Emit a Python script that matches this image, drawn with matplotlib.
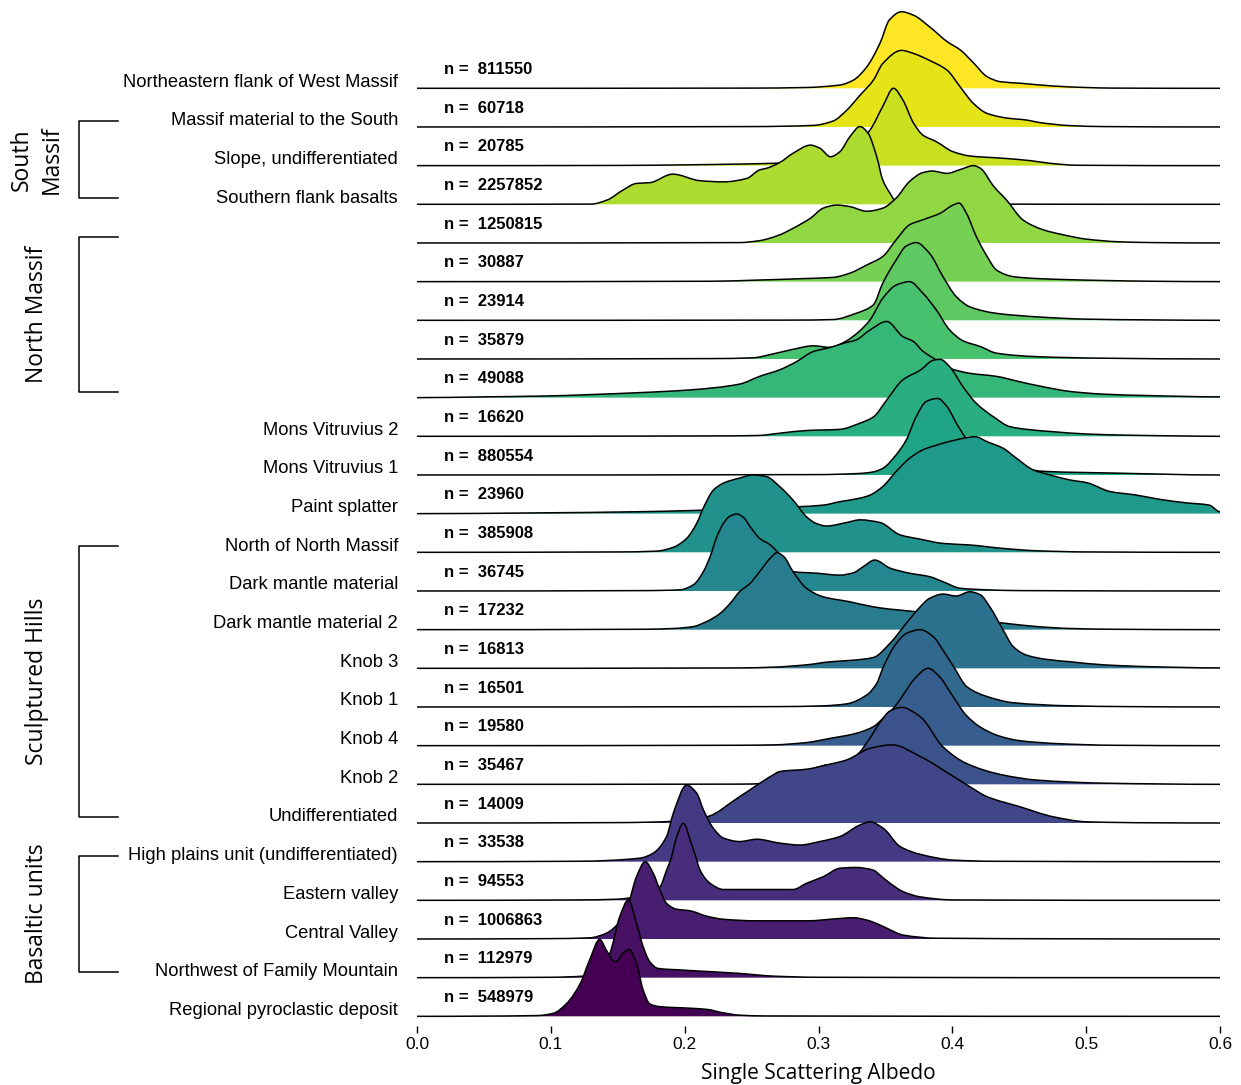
import numpy as np
import matplotlib
matplotlib.use("Agg")
import matplotlib.pyplot as plt
from matplotlib.path import Path
from matplotlib.patches import PathPatch
from matplotlib.transforms import blended_transform_factory

# --- DATA ---------------------------------------------------------------------
labels = [
    "Northeastern flank of West Massif", "Massif material to the South",
    "Slope, undifferentiated", "Southern flank basalts", "", "", "", "", "",
    "Mons Vitruvius 2", "Mons Vitruvius 1", "Paint splatter",
    "North of North Massif", "Dark mantle material", "Dark mantle material 2",
    "Knob 3", "Knob 1", "Knob 4", "Knob 2", "Undifferentiated",
    "High plains unit (undifferentiated)", "Eastern valley", "Central Valley",
    "Northwest of Family Mountain", "Regional pyroclastic deposit",
]
counts = [811550, 60718, 20785, 2257852, 1250815, 30887, 23914, 35879, 49088,
          16620, 880554, 23960, 385908, 36745, 17232, 16813, 16501, 19580,
          35467, 14009, 33538, 94553, 1006863, 112979, 548979]

# groups: (name, first row, last row)
groups = [("South\nMassif", 1, 3), ("North Massif", 4, 8),
          ("Sculptured Hills", 12, 19), ("Basaltic units", 20, 23)]

# density curves (albedo, height in row spacings)
albedo = [
    [0, 0.25, 0.29, 0.316, 0.326, 0.336, 0.346, 0.353, 0.362, 0.371, 0.383, 0.396, 0.406, 0.416, 0.426, 0.436, 0.451, 0.475, 0.50, 0.52, 0.6],
    [0, 0.25, 0.296, 0.311, 0.321, 0.331, 0.341, 0.348, 0.362, 0.371, 0.383, 0.396, 0.406, 0.416, 0.426, 0.443, 0.453, 0.468, 0.488, 0.513, 0.6],
    [0, 0.15, 0.2, 0.24, 0.266, 0.29, 0.31, 0.325, 0.3385, 0.348, 0.356, 0.363, 0.371, 0.378, 0.388, 0.4005, 0.413, 0.438, 0.458, 0.473, 0.493, 0.6],
    [0, 0.13, 0.142, 0.154, 0.164, 0.174, 0.191, 0.2115, 0.229, 0.2465, 0.256, 0.261, 0.271, 0.281, 0.294, 0.301, 0.309, 0.316, 0.3235, 0.331, 0.337, 0.3435, 0.348, 0.3535, 0.358, 0.365, 0.38, 0.42, 0.6],
    [0, 0.241, 0.256, 0.271, 0.281, 0.294, 0.3035, 0.3135, 0.3235, 0.336, 0.348, 0.358, 0.368, 0.378, 0.385, 0.396, 0.406, 0.416, 0.421, 0.431, 0.4405, 0.453, 0.468, 0.483, 0.50, 0.525, 0.55, 0.6],
    [0, 0.22, 0.254, 0.29, 0.311, 0.3235, 0.336, 0.348, 0.358, 0.368, 0.378, 0.391, 0.4005, 0.405, 0.4105, 0.418, 0.426, 0.433, 0.4455, 0.463, 0.513, 0.55, 0.6],
    [0, 0.28, 0.311, 0.328, 0.341, 0.348, 0.358, 0.3655, 0.373, 0.383, 0.393, 0.403, 0.413, 0.433, 0.463, 0.50, 0.55, 0.6],
    [0, 0.22, 0.251, 0.266, 0.281, 0.296, 0.309, 0.32, 0.33, 0.3385, 0.348, 0.358, 0.368, 0.378, 0.388, 0.398, 0.408, 0.421, 0.433, 0.463, 0.513, 0.6],
    [0, 0.05, 0.092, 0.1665, 0.204, 0.241, 0.256, 0.271, 0.2835, 0.296, 0.309, 0.319, 0.328, 0.3385, 0.351, 0.363, 0.371, 0.378, 0.386, 0.398, 0.413, 0.433, 0.4505, 0.468, 0.488, 0.513, 0.55, 0.6],
    [0, 0.22, 0.254, 0.271, 0.291, 0.316, 0.331, 0.341, 0.351, 0.363, 0.376, 0.386, 0.391, 0.398, 0.408, 0.418, 0.4305, 0.443, 0.4555, 0.475, 0.50, 0.53, 0.57, 0.6],
    [0, 0.3, 0.331, 0.341, 0.348, 0.358, 0.3655, 0.373, 0.3805, 0.389, 0.396, 0.403, 0.4095, 0.42, 0.435, 0.45, 0.4705, 0.52, 0.6],
    [0, 0.092, 0.1665, 0.204, 0.24, 0.286, 0.3035, 0.316, 0.331, 0.3385, 0.348, 0.358, 0.368, 0.378, 0.391, 0.403, 0.417, 0.426, 0.438, 0.448, 0.4605, 0.473, 0.488, 0.5005, 0.518, 0.5375, 0.555, 0.5745, 0.592, 0.6],
    [0, 0.15, 0.179, 0.1915, 0.2015, 0.209, 0.214, 0.2215, 0.229, 0.241, 0.251, 0.261, 0.271, 0.281, 0.291, 0.298, 0.306, 0.321, 0.331, 0.346, 0.361, 0.376, 0.393, 0.413, 0.438, 0.463, 0.5, 0.6],
    [0, 0.17, 0.1965, 0.2065, 0.214, 0.219, 0.224, 0.229, 0.234, 0.239, 0.244, 0.249, 0.256, 0.264, 0.269, 0.275, 0.281, 0.2985, 0.316, 0.326, 0.3335, 0.342, 0.3535, 0.368, 0.383, 0.393, 0.406, 0.426, 0.45, 0.6],
    [0, 0.17, 0.1915, 0.2065, 0.2165, 0.2265, 0.234, 0.241, 0.249, 0.256, 0.264, 0.269, 0.274, 0.281, 0.291, 0.3035, 0.3235, 0.341, 0.3535, 0.371, 0.39, 0.415, 0.438, 0.463, 0.488, 0.52, 0.6],
    [0, 0.24, 0.266, 0.291, 0.309, 0.326, 0.341, 0.3535, 0.3655, 0.376, 0.383, 0.393, 0.403, 0.413, 0.421, 0.428, 0.438, 0.4455, 0.4555, 0.4705, 0.488, 0.513, 0.55, 0.6],
    [0, 0.27, 0.3035, 0.321, 0.336, 0.3435, 0.3485, 0.358, 0.3655, 0.376, 0.386, 0.393, 0.401, 0.411, 0.426, 0.4455, 0.488, 0.53, 0.6],
    [0, 0.24, 0.266, 0.291, 0.309, 0.326, 0.341, 0.348, 0.357, 0.365, 0.371, 0.382, 0.39, 0.40, 0.41, 0.42, 0.435, 0.45, 0.48, 0.52, 0.6],
    [0, 0.24, 0.26, 0.28, 0.29, 0.306, 0.321, 0.33, 0.3385, 0.346, 0.3535, 0.362, 0.376, 0.393, 0.4105, 0.438, 0.463, 0.513, 0.6],
    [0, 0.15, 0.19, 0.2, 0.2165, 0.241, 0.266, 0.271, 0.291, 0.306, 0.321, 0.3385, 0.355, 0.376, 0.401, 0.413, 0.426, 0.4505, 0.4755, 0.5005, 0.55, 0.6],
    [0, 0.12, 0.1665, 0.1765, 0.1865, 0.1915, 0.2015, 0.209, 0.214, 0.2215, 0.229, 0.241, 0.254, 0.271, 0.286, 0.301, 0.316, 0.331, 0.3385, 0.3485, 0.361, 0.376, 0.401, 0.43, 0.6],
    [0, 0.12, 0.15, 0.165, 0.1815, 0.1865, 0.19, 0.194, 0.199, 0.205, 0.209, 0.2115, 0.219, 0.229, 0.254, 0.281, 0.291, 0.3035, 0.316, 0.328, 0.341, 0.346, 0.3535, 0.3635, 0.376, 0.401, 0.6],
    [0, 0.1, 0.129, 0.1415, 0.1515, 0.158, 0.164, 0.1705, 0.1765, 0.1815, 0.1865, 0.194, 0.204, 0.2165, 0.229, 0.254, 0.291, 0.316, 0.326, 0.336, 0.346, 0.351, 0.3635, 0.388, 0.6],
    [0, 0.1, 0.1245, 0.137, 0.141, 0.145, 0.1515, 0.158, 0.164, 0.169, 0.174, 0.18, 0.1965, 0.2165, 0.241, 0.266, 0.3, 0.6],
    [0, 0.09, 0.102, 0.112, 0.122, 0.129, 0.1365, 0.1415, 0.148, 0.154, 0.1585, 0.164, 0.169, 0.174, 0.1815, 0.204, 0.2165, 0.229, 0.241, 0.26, 0.6],
]
density = [
    [0, 0.005, 0.02, 0.085, 0.21, 0.55, 1.17, 1.77, 1.98, 1.89, 1.59, 1.21, 0.99, 0.65, 0.30, 0.17, 0.13, 0.06, 0.02, 0.005, 0],
    [0, 0.01, 0.04, 0.155, 0.43, 0.82, 1.21, 1.64, 1.98, 1.90, 1.72, 1.47, 1.03, 0.60, 0.35, 0.22, 0.19, 0.10, 0.035, 0.01, 0],
    [0, 0.005, 0.02, 0.04, 0.06, 0.1, 0.2, 0.45, 0.92, 1.53, 2.0, 1.70, 1.10, 0.79, 0.62, 0.36, 0.25, 0.19, 0.13, 0.06, 0.01, 0],
    [0, 0.005, 0.11, 0.37, 0.54, 0.56, 0.78, 0.61, 0.58, 0.67, 0.89, 0.93, 1.08, 1.32, 1.53, 1.45, 1.23, 1.36, 1.75, 2.01, 1.84, 1.23, 0.63, 0.28, 0.07, 0.04, 0.02, 0.005, 0],
    [0, 0.01, 0.06, 0.21, 0.38, 0.64, 0.90, 0.98, 0.94, 0.82, 0.90, 1.16, 1.59, 1.82, 1.86, 1.80, 1.90, 2.0, 1.93, 1.46, 1.11, 0.59, 0.34, 0.21, 0.10, 0.03, 0.01, 0],
    [0, 0.01, 0.04, 0.08, 0.11, 0.22, 0.43, 0.65, 1.08, 1.47, 1.60, 1.77, 1.98, 2.03, 1.77, 1.16, 0.65, 0.30, 0.13, 0.08, 0.03, 0.01, 0],
    [0, 0.005, 0.02, 0.18, 0.40, 0.96, 1.56, 1.92, 2.01, 1.73, 1.13, 0.61, 0.35, 0.18, 0.09, 0.03, 0.01, 0],
    [0, 0.01, 0.03, 0.13, 0.25, 0.34, 0.30, 0.45, 0.7, 1.01, 1.57, 1.91, 2.0, 1.70, 1.27, 0.75, 0.47, 0.32, 0.15, 0.06, 0.02, 0],
    [0, 0.02, 0.04, 0.13, 0.20, 0.35, 0.55, 0.72, 0.93, 1.19, 1.30, 1.41, 1.49, 1.75, 1.97, 1.58, 1.45, 1.2, 1.02, 0.76, 0.63, 0.55, 0.41, 0.28, 0.16, 0.09, 0.05, 0.02],
    [0, 0.01, 0.02, 0.08, 0.15, 0.18, 0.34, 0.50, 0.94, 1.46, 1.71, 1.97, 1.99, 1.80, 1.28, 0.85, 0.51, 0.25, 0.18, 0.12, 0.06, 0.03, 0.01, 0],
    [0, 0.01, 0.04, 0.08, 0.17, 0.52, 0.90, 1.51, 1.90, 1.98, 1.77, 1.34, 0.99, 0.65, 0.35, 0.18, 0.09, 0.05, 0],
    [0, 0.02, 0.05, 0.08, 0.12, 0.18, 0.22, 0.31, 0.40, 0.48, 0.70, 1.09, 1.43, 1.65, 1.80, 1.91, 1.99, 1.86, 1.69, 1.43, 1.13, 1.0, 0.87, 0.80, 0.57, 0.48, 0.37, 0.28, 0.22, 0.05],
    [0, 0.01, 0.03, 0.13, 0.36, 0.75, 1.15, 1.61, 1.79, 1.92, 2.0, 1.96, 1.70, 1.35, 0.92, 0.75, 0.68, 0.77, 0.84, 0.77, 0.45, 0.34, 0.23, 0.19, 0.10, 0.04, 0.01, 0],
    [0, 0.01, 0.03, 0.16, 0.50, 0.89, 1.40, 1.75, 1.94, 1.99, 1.90, 1.66, 1.36, 1.19, 1.02, 0.75, 0.50, 0.46, 0.41, 0.47, 0.63, 0.80, 0.59, 0.46, 0.37, 0.24, 0.07, 0.03, 0.01, 0],
    [0, 0.01, 0.03, 0.08, 0.21, 0.42, 0.68, 0.98, 1.20, 1.50, 1.85, 1.99, 1.89, 1.50, 1.07, 0.85, 0.72, 0.59, 0.53, 0.47, 0.35, 0.25, 0.17, 0.08, 0.03, 0.01, 0],
    [0, 0.01, 0.03, 0.09, 0.17, 0.21, 0.28, 0.65, 1.16, 1.59, 1.81, 1.92, 1.87, 1.98, 1.90, 1.59, 0.99, 0.56, 0.34, 0.23, 0.17, 0.09, 0.04, 0.01],
    [0, 0.01, 0.03, 0.08, 0.31, 0.61, 1.04, 1.64, 1.90, 2.0, 1.81, 1.47, 1.04, 0.52, 0.27, 0.11, 0.03, 0.01, 0],
    [0, 0.01, 0.02, 0.08, 0.19, 0.30, 0.49, 0.7, 1.01, 1.4, 1.70, 2.0, 1.8, 1.3, 0.8, 0.5, 0.25, 0.13, 0.05, 0.01, 0],
    [0, 0.005, 0.02, 0.08, 0.3, 0.50, 0.55, 0.8, 1.2, 1.6, 1.9, 1.99, 1.75, 0.97, 0.54, 0.24, 0.11, 0.03, 0],
    [0, 0.01, 0.04, 0.08, 0.16, 0.68, 1.24, 1.33, 1.39, 1.50, 1.63, 1.93, 2.02, 1.72, 1.20, 0.94, 0.68, 0.42, 0.16, 0.03, 0.005, 0],
    [0, 0.01, 0.09, 0.22, 0.65, 1.25, 1.98, 1.77, 1.34, 0.86, 0.61, 0.52, 0.58, 0.48, 0.43, 0.52, 0.65, 0.95, 1.03, 0.86, 0.39, 0.19, 0.04, 0.01, 0],
    [0, 0.01, 0.03, 0.1, 0.35, 0.78, 1.1, 1.64, 1.99, 1.47, 1.04, 0.78, 0.44, 0.28, 0.28, 0.28, 0.44, 0.61, 0.83, 0.85, 0.78, 0.65, 0.44, 0.22, 0.09, 0.01, 0],
    [0, 0.01, 0.03, 0.15, 0.45, 0.92, 1.61, 2.0, 1.70, 1.27, 0.92, 0.77, 0.73, 0.59, 0.51, 0.47, 0.47, 0.53, 0.55, 0.49, 0.36, 0.28, 0.10, 0.02, 0],
    [0, 0.01, 0.04, 0.15, 0.35, 0.72, 1.58, 2.01, 1.41, 0.80, 0.41, 0.24, 0.20, 0.16, 0.11, 0.04, 0.01, 0],
    [0, 0.02, 0.08, 0.34, 0.85, 1.46, 1.99, 1.71, 1.41, 1.63, 1.73, 1.37, 0.68, 0.32, 0.25, 0.21, 0.18, 0.09, 0.03, 0.01, 0],
]

xticks = [0.0, 0.1, 0.2, 0.3, 0.4, 0.5, 0.6]


def ridge_path(x, y):
    """Smooth (monotone Hermite) bezier path through the read points."""
    x = np.asarray(x, float)
    y = np.asarray(y, float)
    dx = np.diff(x)
    d = np.diff(y) / dx
    m = np.zeros(len(x))
    for k in range(1, len(x) - 1):
        if d[k - 1] * d[k] > 0:
            w1 = 2 * dx[k] + dx[k - 1]
            w2 = dx[k] + 2 * dx[k - 1]
            m[k] = (w1 + w2) / (w1 / d[k - 1] + w2 / d[k])
    verts = [(x[0], y[0])]
    codes = [Path.MOVETO]
    for k in range(len(x) - 1):
        verts += [(x[k] + dx[k] / 3, y[k] + m[k] * dx[k] / 3),
                  (x[k + 1] - dx[k] / 3, y[k + 1] - m[k + 1] * dx[k] / 3),
                  (x[k + 1], y[k + 1])]
        codes += [Path.CURVE4] * 3
    return verts, codes


# --- FIGURE -------------------------------------------------------------------
W, H = 1241, 1085
fig = plt.figure(figsize=(W / 100, H / 100), dpi=100)
ax = fig.add_axes([417 / W, 59 / H, 803 / W, 1026 / H])

n_rows = len(labels)
colors = plt.cm.viridis(np.linspace(1, 0, n_rows))
text_font = ["Liberation Sans", "DejaVu Sans"]
title_font = ["Open Sans", "DejaVu Sans"]

for i in range(n_rows):
    base = -i
    verts, codes = ridge_path(albedo[i], np.array(density[i]) + base)
    fill_verts = verts + [(albedo[i][-1], base), (albedo[i][0], base), (0, 0)]
    fill_codes = codes + [Path.LINETO, Path.LINETO, Path.CLOSEPOLY]
    ax.add_patch(PathPatch(Path(fill_verts, fill_codes), facecolor=colors[i],
                           lw=0, zorder=2 * i + 1))
    ax.add_patch(PathPatch(Path(verts, codes), fill=False, edgecolor="black",
                           lw=1.1, zorder=2 * i + 2, joinstyle="round"))
    ax.text(0.02, base + 0.49, f"n =  {counts[i]}", fontsize=12,
            fontweight="bold", family=text_font, ha="left", va="center",
            zorder=100)

# row labels on the left
lab_tr = blended_transform_factory(fig.transFigure, ax.transData)
for i, lab in enumerate(labels):
    if lab:
        ax.text(398 / W, -i + 0.155, lab, transform=lab_tr, fontsize=13.2,
                family=text_font, ha="right", va="center")

# group brackets
for name, r0, r1 in groups:
    y0, y1 = -r0 + 0.155, -r1 + 0.155
    ax.plot([118 / W, 79 / W, 79 / W, 118 / W], [y0, y0, y1, y1],
            transform=lab_tr, color="black", lw=1.1, clip_on=False)
    ax.text(37 / W, (y0 + y1) / 2, name, transform=lab_tr, rotation=90,
            fontsize=16.5, family=title_font, ha="center", va="center",
            linespacing=1.3, multialignment="center")

ax.set_xlim(0, 0.6)
ax.set_ylim(-24.25, 88.3 / 38.67)
ax.set_xticks(xticks)
ax.set_xticklabels([f"{t:.1f}" for t in xticks], family=text_font, fontsize=12.5)
ax.set_yticks([])
for s in ax.spines.values():
    s.set_visible(False)
ax.tick_params(axis="x", direction="out", length=5, width=1.0, pad=3)
ax.set_xlabel("Single Scattering Albedo", fontsize=15, family=title_font,
              labelpad=8)

fig.savefig("out.png", dpi=100)
